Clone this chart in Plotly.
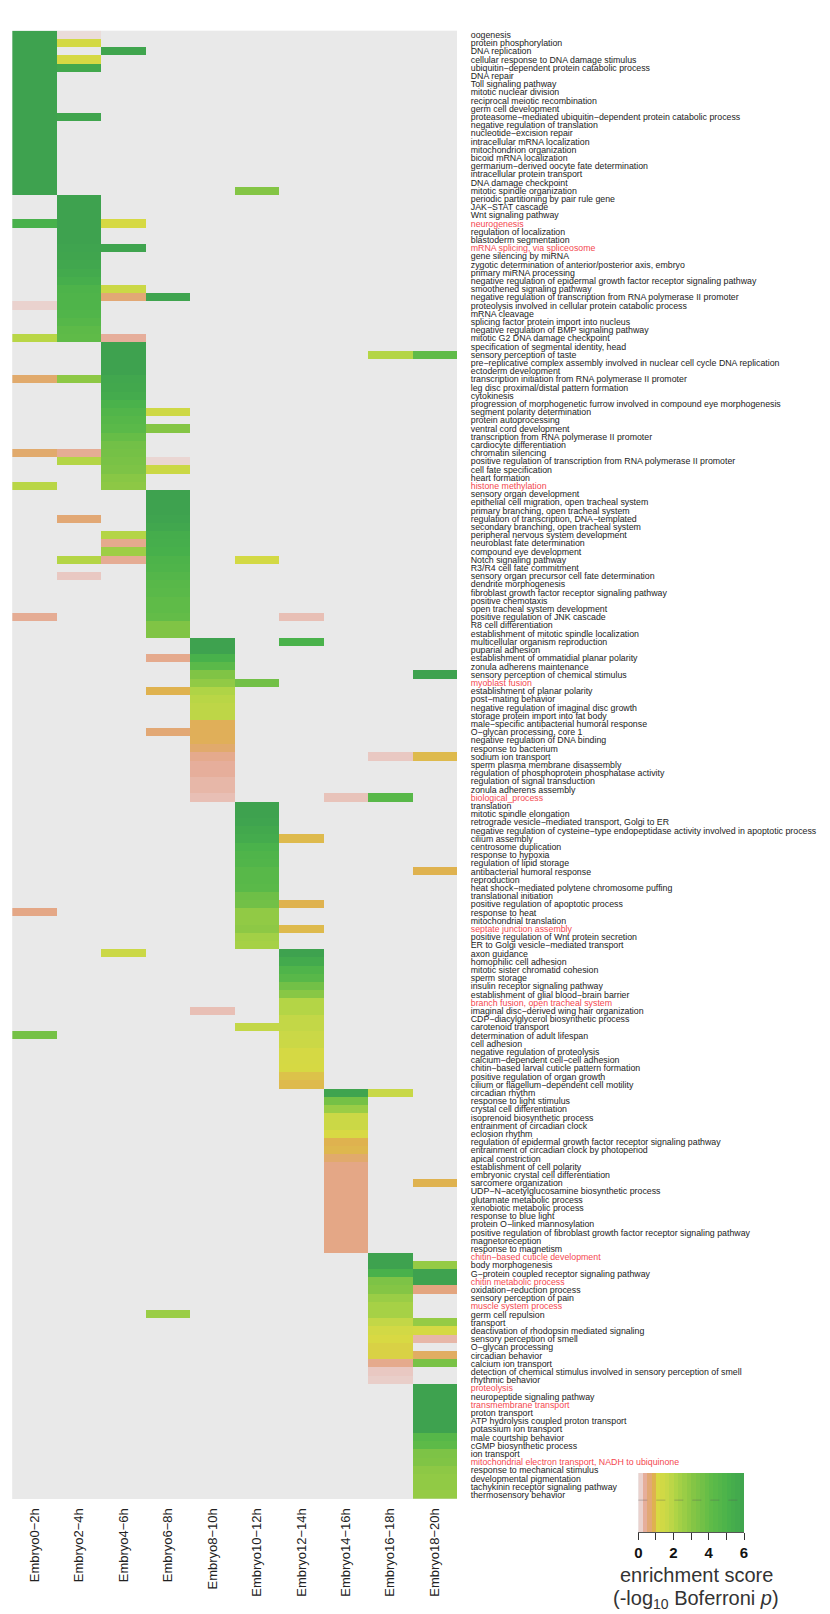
# dependencies
import plotly.graph_objects as go	# plots

FONT = 'Liberation Sans'
M = '\u2212'  # the labels use a long minus, not a hyphen

stages = [f'Embryo{s}{M}{e}h' for s, e in [(0, 2), (2, 4), (4, 6), (6, 8), (8, 10), (10, 12), (12, 14), (14, 16), (16, 18), (18, 20)]]

# one entry per row, top to bottom: {stage index: enrichment score}
term_scores = [
	('oogenesis', {0: 6, 1: .05}),
	('protein phosphorylation', {0: 6, 1: 1.15}),
	('DNA replication', {0: 6, 2: 5.8}),
	('cellular response to DNA damage stimulus', {0: 6, 1: 1.05}),
	('ubiquitin-dependent protein catabolic process', {0: 6, 1: 5.6}),
	('DNA repair', {0: 6}),
	('Toll signaling pathway', {0: 6}),
	('mitotic nuclear division', {0: 6}),
	('reciprocal meiotic recombination', {0: 6}),
	('germ cell development', {0: 6}),
	('proteasome-mediated ubiquitin-dependent protein catabolic process', {0: 6, 1: 5.8}),
	('negative regulation of translation', {0: 6}),
	('nucleotide-excision repair', {0: 6}),
	('intracellular mRNA localization', {0: 6}),
	('mitochondrion organization', {0: 6}),
	('bicoid mRNA localization', {0: 6}),
	('germarium-derived oocyte fate determination', {0: 6}),
	('intracellular protein transport', {0: 6}),
	('DNA damage checkpoint', {0: 6}),
	('mitotic spindle organization', {0: 6, 5: 3.0}),
	('periodic partitioning by pair rule gene', {1: 6}),
	('JAK-STAT cascade', {1: 6}),
	('Wnt signaling pathway', {1: 6}),
	('neurogenesis', {0: 5, 1: 6, 2: 1.05}),
	('regulation of localization', {1: 6}),
	('blastoderm segmentation', {1: 6}),
	('mRNA splicing, via spliceosome', {1: 5.9, 2: 5.9}),
	('gene silencing by miRNA', {1: 5.8}),
	('zygotic determination of anterior/posterior axis, embryo', {1: 5.7}),
	('primary miRNA processing', {1: 5.5}),
	('negative regulation of epidermal growth factor receptor signaling pathway', {1: 5.2}),
	('smoothened signaling pathway', {1: 4.8, 2: 1.4}),
	('negative regulation of transcription from RNA polymerase II promoter', {1: 4.7, 2: .55, 3: 5.9}),
	('proteolysis involved in cellular protein catabolic process', {0: .1, 1: 4.7}),
	('mRNA cleavage', {1: 4.6}),
	('splicing factor protein import into nucleus', {1: 4.4}),
	('negative regulation of BMP signaling pathway', {1: 4.1}),
	('mitotic G2 DNA damage checkpoint', {0: 1.8, 1: 4.0, 2: .3}),
	('specification of segmental identity, head', {2: 6}),
	('sensory perception of taste', {2: 6, 8: 1.9, 9: 4.0}),
	('pre-replicative complex assembly involved in nuclear cell cycle DNA replication', {2: 6}),
	('ectoderm development', {2: 6}),
	('transcription initiation from RNA polymerase II promoter', {0: .6, 1: 2.8, 2: 5.7}),
	('leg disc proximal/distal pattern formation', {2: 5.6}),
	('cytokinesis', {2: 5.4}),
	('progression of morphogenetic furrow involved in compound eye morphogenesis', {2: 4.9}),
	('segment polarity determination', {2: 4.6, 3: 1.3}),
	('protein autoprocessing', {2: 4.4}),
	('ventral cord development', {2: 4.2, 3: 3.0}),
	('transcription from RNA polymerase II promoter', {2: 3.8}),
	('cardiocyte differentiation', {2: 3.5}),
	('chromatin silencing', {0: .6, 1: .35, 2: 3.4}),
	('positive regulation of transcription from RNA polymerase II promoter', {1: 1.9, 2: 3.3, 3: .08}),
	('cell fate specification', {2: 3.2, 3: 1.4}),
	('heart formation', {2: 2.9}),
	('histone methylation', {0: 1.8, 2: 2.8}),
	('sensory organ development', {3: 6}),
	('epithelial cell migration, open tracheal system', {3: 6}),
	('primary branching, open tracheal system', {3: 6}),
	('regulation of transcription, DNA-templated', {1: .55, 3: 5.9}),
	('secondary branching, open tracheal system', {3: 5.7}),
	('peripheral nervous system development', {2: 1.9, 3: 5.3}),
	('neuroblast fate determination', {2: .4, 3: 5.2}),
	('compound eye development', {2: 2.4, 3: 5.1}),
	('Notch signaling pathway', {1: 1.9, 2: .35, 3: 4.8, 5: 1.15}),
	('R3/R4 cell fate commitment', {3: 4.7}),
	('sensory organ precursor cell fate determination', {1: .15, 3: 4.5}),
	('dendrite morphogenesis', {3: 4.3}),
	('fibroblast growth factor receptor signaling pathway', {3: 4.2}),
	('positive chemotaxis', {3: 4.0}),
	('open tracheal system development', {3: 4.0}),
	('positive regulation of JNK cascade', {0: .35, 3: 3.9, 6: .2}),
	('R8 cell differentiation', {3: 3.1}),
	('establishment of mitotic spindle localization', {3: 3.1}),
	('multicellular organism reproduction', {4: 6, 6: 4.9}),
	('puparial adhesion', {4: 6}),
	('establishment of ommatidial planar polarity', {3: .4, 4: 5}),
	('zonula adherens maintenance', {4: 4.2}),
	('sensory perception of chemical stimulus', {4: 3.1, 9: 6}),
	('myoblast fusion', {4: 2.7, 5: 3.5}),
	('establishment of planar polarity', {3: .75, 4: 2}),
	('post-mating behavior', {4: 1.8}),
	('negative regulation of imaginal disc growth', {4: 1.7}),
	('storage protein import into fat body', {4: 1.7}),
	('male-specific antibacterial humoral response', {4: .7}),
	('O-glycan processing, core 1', {3: .55, 4: .7}),
	('negative regulation of DNA binding', {4: .7}),
	('response to bacterium', {4: .6}),
	('sodium ion transport', {4: .4, 8: .15, 9: .8}),
	('sperm plasma membrane disassembly', {4: .3}),
	('regulation of phosphoprotein phosphatase activity', {4: .3}),
	('regulation of signal transduction', {4: .25}),
	('zonula adherens assembly', {4: .25}),
	('biological_process', {4: .2, 7: .18, 8: 4.3}),
	('translation', {5: 6}),
	('mitotic spindle elongation', {5: 6}),
	('retrograde vesicle-mediated transport, Golgi to ER', {5: 5.9}),
	('negative regulation of cysteine-type endopeptidase activity involved in apoptotic process', {5: 5.6}),
	('cilium assembly', {5: 5.4, 6: .8}),
	('centrosome duplication', {5: 4.9}),
	('response to hypoxia', {5: 4.7}),
	('regulation of lipid storage', {5: 4.6}),
	('antibacterial humoral response', {5: 4.3, 9: .75}),
	('reproduction', {5: 4.3}),
	('heat shock-mediated polytene chromosome puffing', {5: 4.2}),
	('translational initiation', {5: 3.6}),
	('positive regulation of apoptotic process', {5: 3.5, 6: .75}),
	('response to heat', {0: .45, 5: 2.7}),
	('mitochondrial translation', {5: 2.7}),
	('septate junction assembly', {5: 2.8, 6: .8}),
	('positive regulation of Wnt protein secretion', {5: 2.3}),
	('ER to Golgi vesicle-mediated transport', {5: 2.2}),
	('axon guidance', {2: 1.4, 6: 6}),
	('homophilic cell adhesion', {6: 5.5}),
	('mitotic sister chromatid cohesion', {6: 4.7}),
	('sperm storage', {6: 4.3}),
	('insulin receptor signaling pathway', {6: 3.5}),
	('establishment of glial blood-brain barrier', {6: 2.9}),
	('branch fusion, open tracheal system', {6: 1.9}),
	('imaginal disc-derived wing hair organization', {4: .2, 6: 1.9}),
	('CDP-diacylglycerol biosynthetic process', {6: 1.6}),
	('carotenoid transport', {5: 1.6, 6: 1.6}),
	('determination of adult lifespan', {0: 3.4, 6: 1.45}),
	('cell adhesion', {6: 1.4}),
	('negative regulation of proteolysis', {6: 1.1}),
	('calcium-dependent cell-cell adhesion', {6: 1.1}),
	('chitin-based larval cuticle pattern formation', {6: 1.05}),
	('positive regulation of organ growth', {6: .85}),
	('cilium or flagellum-dependent cell motility', {6: .8}),
	('circadian rhythm', {7: 5.9, 8: 1.5}),
	('response to light stimulus', {7: 3.4}),
	('crystal cell differentiation', {7: 2.5}),
	('isoprenoid biosynthetic process', {7: 1.4}),
	('entrainment of circadian clock', {7: 1.4}),
	('eclosion rhythm', {7: 1.0}),
	('regulation of epidermal growth factor receptor signaling pathway', {7: .75}),
	('entrainment of circadian clock by photoperiod', {7: .78}),
	('apical constriction', {7: .6}),
	('establishment of cell polarity', {7: .45}),
	('embryonic crystal cell differentiation', {7: .45}),
	('sarcomere organization', {7: .45, 9: .75}),
	('UDP-N-acetylglucosamine biosynthetic process', {7: .45}),
	('glutamate metabolic process', {7: .45}),
	('xenobiotic metabolic process', {7: .45}),
	('response to blue light', {7: .45}),
	('protein O-linked mannosylation', {7: .45}),
	('positive regulation of fibroblast growth factor receptor signaling pathway', {7: .45}),
	('magnetoreception', {7: .45}),
	('response to magnetism', {7: .45}),
	('chitin-based cuticle development', {8: 6}),
	('body morphogenesis', {8: 6, 9: 2.6}),
	('G-protein coupled receptor signaling pathway', {8: 5, 9: 6}),
	('chitin metabolic process', {8: 3.2, 9: 6}),
	('oxidation-reduction process', {8: 3, 9: .5}),
	('sensory perception of pain', {8: 2.5}),
	('muscle system process', {8: 2.2}),
	('germ cell repulsion', {3: 2.5, 8: 2.2}),
	('transport', {8: 1.6, 9: 2.6}),
	('deactivation of rhodopsin mediated signaling', {8: 1.2, 9: 1.1}),
	('sensory perception of smell', {8: 1, 9: .25}),
	('O-glycan processing', {8: .95}),
	('circadian behavior', {8: .95, 9: .65}),
	('calcium ion transport', {8: .4, 9: 3.3}),
	('detection of chemical stimulus involved in sensory perception of smell', {8: .15}),
	('rhythmic behavior', {8: .12}),
	('proteolysis', {9: 6}),
	('neuropeptide signaling pathway', {9: 6}),
	('transmembrane transport', {9: 6}),
	('proton transport', {9: 6}),
	('ATP hydrolysis coupled proton transport', {9: 6}),
	('potassium ion transport', {9: 6}),
	('male courtship behavior', {9: 4.4}),
	('cGMP biosynthetic process', {9: 4.1}),
	('ion transport', {9: 3.2}),
	('mitochondrial electron transport, NADH to ubiquinone', {9: 3.1}),
	('response to mechanical stimulus', {9: 2.8}),
	('developmental pigmentation', {9: 2.7}),
	('tachykinin receptor signaling pathway', {9: 2.7}),
	('thermosensory behavior', {9: 2.6}),
]

red_terms = [
	'neurogenesis', 'mRNA splicing, via spliceosome', 'histone methylation', 'myoblast fusion',
	'biological_process', 'septate junction assembly', 'branch fusion, open tracheal system',
	'chitin-based cuticle development', 'chitin metabolic process', 'muscle system process',
	'proteolysis', 'transmembrane transport', 'mitochondrial electron transport, NADH to ubiquinone',
]

legend_edges = [0, .25, .5, .75, 1, 1.25, 1.5, 1.75, 2, 2.25, 2.5, 2.75, 3, 3.25, 3.5, 3.75, 4, 4.25, 4.5, 4.75, 5, 5.25, 5.5, 5.75, 6]
legend_levels = [.1, .3, .55, .75, 1, 1.25, 1.5, 1.75, 2, 2.25, 2.5, 2.75, 3, 3.25, 3.5, 3.75, 4, 4.25, 4.5, 4.75, 5, 5.25, 5.5, 5.75]

colorscale = [
	[0 / 6, '#ebe6e6'], [.15 / 6, '#e9c8c2'], [.3 / 6, '#e6ae9b'], [.5 / 6, '#e3a57f'],
	[.75 / 6, '#dfb24f'], [1 / 6, '#d8d943'], [1.5 / 6, '#c8d847'], [2 / 6, '#afd446'],
	[3 / 6, '#84c545'], [4 / 6, '#5fbb48'], [5 / 6, '#48b14b'], [6 / 6, '#3ea24f'],
]

# convert the sparse rows to a matrix, None leaves the grey background showing
terms = [term for term, _ in term_scores]
z = [[scores.get(i) for i in range(len(stages))] for _, scores in term_scores]

labels = [t.replace('-', M) for t in terms]
labels = [
	f'<span style="color:#f4484f">{label}</span>' if term in red_terms else label
	for term, label in zip(terms, labels)
]

# create figure
W, H = 830, 1614
fig = go.Figure()
fig.add_trace(go.Heatmap(
	x=stages, y=terms, z=z, zmin=0, zmax=6,
	colorscale=colorscale, showscale=False, hoverongaps=False,
))
fig.add_trace(go.Heatmap(
	x=legend_edges, y=['score'], z=[legend_levels], zmin=0, zmax=6,
	colorscale=colorscale, showscale=False, xaxis='x2', yaxis='y2',
))

# configure layout
fig.update_layout(
	width=W, height=H,
	margin={'l': 0, 'r': 0, 't': 0, 'b': 0},
	autosize=False,
	paper_bgcolor='white',
	plot_bgcolor='#e9e9e9',
	font={'family': FONT, 'color': '#222222'},
	xaxis={
		'domain': [12.2 / W, 457 / W], 'anchor': 'y', 'tickangle': -90, 'automargin': False,
		'ticks': 'outside', 'ticklen': 3, 'tickcolor': 'rgba(0,0,0,0)',
		'tickfont': {'size': 13, 'color': '#222222'}, 'showgrid': False, 'zeroline': False, 'showline': False,
	},
	yaxis={
		'domain': [1 - 1499 / H, 1 - 30.7 / H], 'anchor': 'x', 'side': 'right', 'autorange': 'reversed', 'automargin': False,
		'tickmode': 'array', 'tickvals': terms, 'ticktext': labels,
		'ticks': 'outside', 'ticklen': 11, 'tickcolor': 'rgba(0,0,0,0)',
		'tickfont': {'size': 8.8, 'color': '#222222'}, 'showgrid': False, 'zeroline': False, 'showline': False,
	},
	xaxis2={
		'domain': [638.3 / W, 744 / W], 'anchor': 'y2', 'range': [0, 6], 'automargin': False,
		'tickmode': 'array', 'tickvals': [0, 2, 4, 6],
		'ticks': 'outside', 'ticklen': 7, 'tickwidth': 1, 'tickcolor': '#333333',
		'minor': {'tickvals': [1, 3, 5], 'ticks': 'outside', 'ticklen': 7, 'tickwidth': 1, 'tickcolor': '#333333'},
		'showline': True, 'linecolor': '#555555', 'linewidth': 1,
		'tickfont': {'size': 15, 'color': '#111111', 'weight': 'bold'}, 'showgrid': False, 'zeroline': False,
	},
	yaxis2={
		'domain': [1 - 1532 / H, 1 - 1473 / H], 'anchor': 'x2', 'visible': False, 'automargin': False,
	},
	shapes=[{
		# faint dashed seam across the middle of the legend strip
		'type': 'line', 'xref': 'x2 domain', 'yref': 'y2 domain', 'x0': 0, 'x1': 1, 'y0': .54, 'y1': .54,
		'line': {'color': 'rgba(90,90,90,0.35)', 'width': 1, 'dash': 'dash'},
	}],
	annotations=[
		{
			'text': 'enrichment score', 'x': 696 / W, 'y': 1 - 1575 / H, 'xref': 'paper', 'yref': 'paper',
			'showarrow': False, 'xanchor': 'center', 'yanchor': 'middle', 'font': {'size': 20, 'color': '#333333'},
		},
		{
			'text': '(-log<sub>10</sub> Boferroni <i>p</i>)', 'x': 696 / W, 'y': 1 - 1599 / H, 'xref': 'paper', 'yref': 'paper',
			'showarrow': False, 'xanchor': 'center', 'yanchor': 'middle', 'font': {'size': 20, 'color': '#333333'},
		},
	],
)

fig.write_html(
	'out.html',
	config={'displayModeBar': False},
	post_script="document.body.style.margin='0';document.body.style.overflow='hidden';",
)
